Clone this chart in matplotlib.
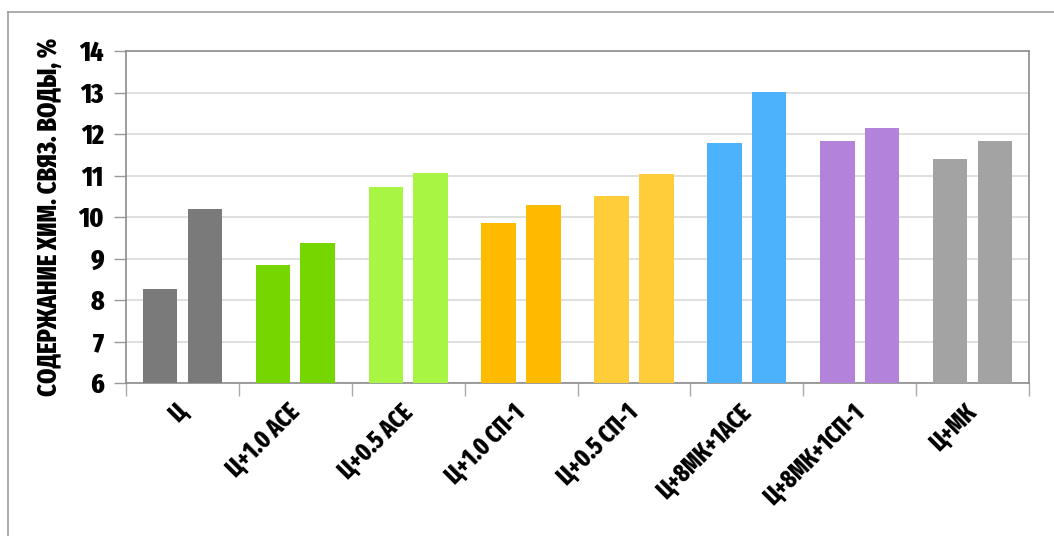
import matplotlib
matplotlib.use("Agg")
import matplotlib.pyplot as plt
from matplotlib.lines import Line2D
import numpy as np

categories = ["Ц", "Ц+1.0 АСЕ", "Ц+0.5 АСЕ", "Ц+1.0 СП-1", "Ц+0.5 СП-1",
              "Ц+8МК+1АСЕ", "Ц+8МК+1СП-1", "Ц+МК"]
series_a = [8.27, 8.84, 10.72, 9.86, 10.50, 11.78, 11.83, 11.40]
series_b = [10.20, 9.37, 11.07, 10.29, 11.03, 13.02, 12.15, 11.83]
colors = ["#7a7a7a", "#76d600", "#a8f543", "#ffbb00", "#ffcc3a",
          "#4cb2fb", "#b383db", "#a3a3a3"]
yticks = [6, 7, 8, 9, 10, 11, 12, 13, 14]
ylabel = "СОДЕРЖАНИЕ ХИМ. СВЯЗ. ВОДЫ, %"

FONT = ["Fira Sans Extra Condensed", "PT Sans Narrow", "Roboto Condensed",
        "Oswald", "DejaVu Sans"]
WEIGHT = "heavy"

fig = plt.figure(figsize=(10.54, 5.36), dpi=100)
ax = fig.add_axes([126/1054, 1-383/536, (1029-126)/1054, (383-51)/536])

x = np.arange(len(categories))
w = 0.305
off = 0.198
for i in range(len(categories)):
    ax.bar(x[i]-off, series_a[i]-6, bottom=6, width=w, color=colors[i], zorder=3)
    ax.bar(x[i]+off, series_b[i]-6, bottom=6, width=w, color=colors[i], zorder=3)

ax.set_ylim(6, 14)
ax.set_xlim(-0.5, len(categories)-0.5)
ax.set_yticks(yticks)
ax.set_yticklabels([str(t) for t in yticks], family=FONT, fontweight=WEIGHT, fontsize=20)
ax.yaxis.grid(True, color="#d9d9d9", linewidth=1.2, zorder=0)
ax.tick_params(axis="y", length=9, color="#999999", width=1, pad=7)

ax.set_xticks(np.arange(len(categories)+1)-0.5, minor=False)
ax.set_xticklabels([])
ax.tick_params(axis="x", which="major", length=9, color="#aaaaaa", width=1)
ax.set_xticks(x, minor=True)
ax.set_xticklabels(categories, minor=True, rotation=45, ha="right",
                   rotation_mode="anchor", family=FONT, fontweight=WEIGHT,
                   fontsize=17.5)
ax.tick_params(axis="x", which="minor", length=0, pad=18)
for lbl in ax.get_xticklabels(minor=True):
    lbl.set_va("center")

for s in ax.spines.values():
    s.set_color("#8c8c8c")
    s.set_linewidth(1.2)

ax.set_ylabel(ylabel, family=FONT, fontweight=WEIGHT, fontsize=19, labelpad=11)

# outer frame
fig.add_artist(Line2D([8/1054, 8/1054], [0, 1-12/536], color="#a0a0a0", lw=1.2))
fig.add_artist(Line2D([8/1054, 1], [1-12/536, 1-12/536], color="#a0a0a0", lw=1.2))

fig.savefig("out.png", dpi=100)
